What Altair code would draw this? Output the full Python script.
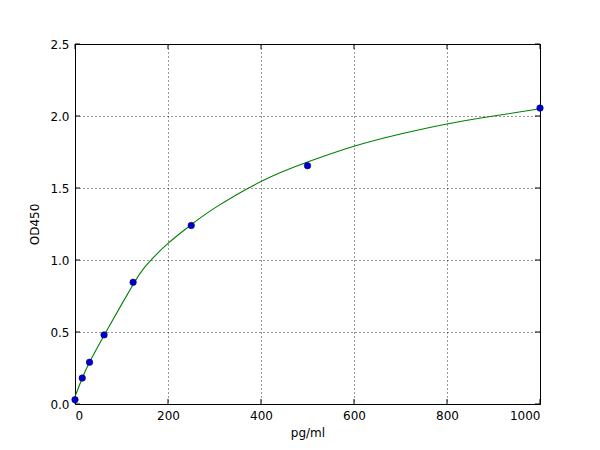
import altair as alt
import pandas as pd

# measured standards
conc = [0, 15.6, 31.25, 62.5, 125, 250, 500, 1000]
od = [0.03, 0.18, 0.29, 0.48, 0.845, 1.24, 1.655, 2.055]

# fitted curve
curve_x = [0, 15, 32, 64, 100, 125, 150, 200, 250, 300, 400, 500, 600, 700, 800, 900, 1000]
curve_y = [0.05, 0.175, 0.295, 0.485, 0.69, 0.83, 0.95, 1.115, 1.245, 1.36, 1.545, 1.68, 1.79, 1.875, 1.945, 2.00, 2.05]

x_ticks = [0, 200, 400, 600, 800, 1000]
y_ticks = [0.0, 0.5, 1.0, 1.5, 2.0, 2.5]

pts = pd.DataFrame({"x": conc, "y": od})
cur = pd.DataFrame({"x": curve_x, "y": curve_y})
xt = pd.DataFrame({"v": x_ticks})
yt = pd.DataFrame({"v": y_ticks})

W, H = 465, 360
xs = alt.Scale(domain=[0, 1000], nice=False, zero=False)
ys = alt.Scale(domain=[0, 2.5], nice=False, zero=False)

font = "DejaVu Sans"

xaxis = alt.Axis(values=x_ticks, format="d", grid=True, gridColor="#000000",
                 gridDash=[1, 3], gridOpacity=0.8, tickSize=0, domain=False,
                 labelPadding=6, labelFontSize=12, labelColor="#000000",
                 labelFont=font, title="pg/ml", titleFont=font, titleFontSize=12,
                 titleFontWeight="normal", titleColor="#000000", titlePadding=6)
yaxis = alt.Axis(values=y_ticks, format=".1f", grid=True, gridColor="#000000",
                 gridDash=[1, 3], gridOpacity=0.8, tickSize=0, domain=False,
                 labelPadding=6, labelFontSize=12, labelColor="#000000",
                 labelFont=font, title="OD450", titleFont=font, titleFontSize=12,
                 titleFontWeight="normal", titleColor="#000000", titlePadding=8)

line = alt.Chart(cur).mark_line(color="#008000", strokeWidth=1.1, interpolate="natural").encode(
    x=alt.X("x:Q", scale=xs, axis=xaxis),
    y=alt.Y("y:Q", scale=ys, axis=yaxis),
)

dots = alt.Chart(pts).mark_point(filled=True, size=42, color="#0000c8", opacity=1,
                                 stroke="#000080", strokeWidth=0.6, clip=False).encode(
    x=alt.X("x:Q", scale=xs),
    y=alt.Y("y:Q", scale=ys),
)

tick_style = dict(color="#000000", strokeWidth=1)
xb = alt.Chart(xt).mark_rule(**tick_style).encode(x=alt.X("v:Q", scale=xs), y=alt.value(H), y2=alt.value(H - 5))
xtop = alt.Chart(xt).mark_rule(**tick_style).encode(x=alt.X("v:Q", scale=xs), y=alt.value(0), y2=alt.value(5))
yl = alt.Chart(yt).mark_rule(**tick_style).encode(y=alt.Y("v:Q", scale=ys), x=alt.value(0), x2=alt.value(5))
yr = alt.Chart(yt).mark_rule(**tick_style).encode(y=alt.Y("v:Q", scale=ys), x=alt.value(W), x2=alt.value(W - 5))

chart = alt.layer(line, xb, xtop, yl, yr, dots).properties(
    width=W, height=H,
    autosize=alt.AutoSizeParams(type="none"),
    padding={"left": 67, "top": 36, "right": 52, "bottom": 38},
    background="#ffffff",
).configure_view(stroke="#000000", strokeWidth=1)

chart.save("out.html", embed_options={"renderer": "svg", "actions": False})
